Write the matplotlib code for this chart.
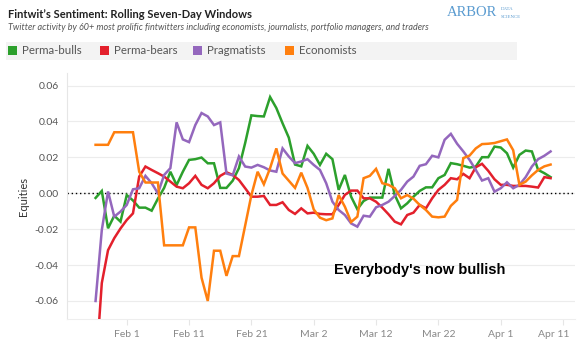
import numpy as np
import pandas as pd
import matplotlib
matplotlib.use("Agg")
import matplotlib.pyplot as plt
import matplotlib.dates as mdates
from matplotlib.patches import Rectangle
from matplotlib.transforms import ScaledTranslation

# daily values, Jan 27 .. Apr 9 2020
dates = pd.date_range("2020-01-27", "2020-04-09", freq="D")

perma_bulls = [-0.0026, 0.0013, -0.0195, -0.0125, -0.0158, -0.001, -0.004, -0.008, -0.008, -0.0097,
               -0.003, 0.003, 0.012, 0.0046, 0.012, 0.0186, 0.019, 0.0199, 0.0167, 0.0167,
               0.003, 0.003, 0.007, 0.014, 0.028, 0.0434, 0.043, 0.0428, 0.0536, 0.0475,
               0.039, 0.031, 0.016, 0.015, 0.0264, 0.022, 0.0158, 0.022, 0.019, 0.0019,
               0.0102, -0.0019, -0.0089, -0.0043, -0.0024, -0.0024, -0.0024, 0.0136, -0.0009, -0.0084,
               -0.0056, -0.0019, 0.0013, 0.0033, 0.0033, 0.0084, 0.0102, 0.0168, 0.0162, 0.0153,
               0.0143, 0.0149, 0.0201, 0.0201, 0.026, 0.0255, 0.0223, 0.0143, 0.0214, 0.0238,
               0.0233, 0.013, 0.0112, 0.009]
perma_bears = [-0.10, -0.050, -0.0317, -0.025, -0.0196, -0.0149, -0.0112, 0.0093, 0.0149, 0.013,
               0.0112, 0.0093, 0.0065, 0.0037, 0.0028, 0.0056, 0.0097, 0.0047, 0.0028, 0.0056,
               0.0097, 0.0117, 0.0102, 0.0074, 0.0028, -0.0019, -0.0019, -0.0015, -0.0065, -0.0065,
               -0.005, -0.0093, -0.0115, -0.0084, -0.0112, -0.0108, -0.0115, -0.0117, -0.0117, -0.0065,
               -0.0009, 0.0015, 0.0015, -0.0028, -0.0028, -0.0047, -0.008, -0.0117, -0.0158, -0.0173,
               -0.0121, -0.0108, -0.0065, -0.0084, -0.0028, 0.0019, 0.0047, 0.0084, 0.0078, 0.0108,
               0.0084, 0.0145, 0.0164, 0.0125, 0.0078, 0.0047, 0.0047, 0.0041, 0.0041, 0.0041,
               0.0037, 0.0032, 0.009, 0.0084]
pragmatists = [-0.060, -0.0205, 0.001, -0.013, -0.0102, -0.0065, 0.0022, 0.0028, 0.0097, 0.0056,
               0.0, 0.0102, 0.014, 0.0395, 0.030, 0.0285, 0.038, 0.0447, 0.0428, 0.038,
               0.0395, 0.011, 0.010, 0.0205, 0.0149, 0.0143, 0.0158, 0.0145, 0.0127, 0.012,
               0.025, 0.0205, 0.0168, 0.0177, 0.019, 0.0158, 0.013, 0.0056, -0.0047, -0.0093,
               -0.0121, -0.0168, -0.0186, -0.0125, -0.013, -0.0078, -0.0065, -0.0047, -0.0015, 0.0019,
               0.0065, 0.0093, 0.0153, 0.0162, 0.0209, 0.02, 0.0298, 0.0331, 0.0276, 0.0233,
               0.0186, 0.013, 0.0071, 0.0084, 0.0009, 0.0028, 0.0061, 0.0028, 0.0047, 0.009,
               0.0149, 0.019, 0.0209, 0.0233]
economists = [0.027, 0.027, 0.027, 0.034, 0.034, 0.034, 0.034, 0.012, 0.006, 0.006,
              0.006, -0.029, -0.029, -0.029, -0.029, -0.019, -0.019, -0.047, -0.060, -0.032,
              -0.032, -0.046, -0.035, -0.035, -0.018, -0.001, 0.012, 0.005, 0.014, 0.025,
              0.011, 0.007, 0.003, 0.0115, 0.003, -0.009, -0.0136, -0.015, -0.014, -0.001,
              -0.0075, -0.016, -0.013, 0.0084, 0.0097, 0.0136, 0.0056, 0.0047, 0.0028, -0.0028,
              -0.001, -0.003, -0.0065, -0.0093, -0.013, -0.0134, -0.013, -0.007, -0.0037, 0.0196,
              0.021, 0.025, 0.0274, 0.0276, 0.028, 0.029, 0.030, 0.024, 0.0047, 0.0065,
              0.010, 0.013, 0.015, 0.016]

series_names = ["Perma-bulls", "Perma-bears", "Pragmatists", "Economists"]
series_vals = [perma_bulls, perma_bears, pragmatists, economists]
colors = ["#2ca02c", "#e3202c", "#9467bd", "#ff7f0e"]

tick_dates = pd.to_datetime(["2020-02-01", "2020-02-11", "2020-02-21", "2020-03-02", "2020-03-12",
                             "2020-03-22", "2020-04-01", "2020-04-11"])
tick_labels = ["Feb 1", "Feb 11", "Feb 21", "Mar 2", "Mar 12", "Mar 22", "Apr 1", "Apr 11"]
y_ticks = [-0.06, -0.04, -0.02, 0.0, 0.02, 0.04, 0.06]

plt.rcParams['font.family'] = ['Lato', 'DejaVu Sans']

W, H = 582, 352
fig = plt.figure(figsize=(W / 100, H / 100), dpi=100)
ax = fig.add_axes([67 / W, 1 - 319.3 / H, (575 - 67) / W, (319.3 - 73) / H])

for name, vals, c in zip(series_names, series_vals, colors):
    ax.plot(dates, vals, color=c, lw=1.8, label=name, solid_joinstyle='miter', zorder=3)

ax.axhline(0, color='black', lw=1.0, ls=(0, (1, 2)), zorder=2)

ax.set_ylim(-0.0702, 0.067)
ax.set_xlim(pd.Timestamp("2020-01-22 10:00"), pd.Timestamp("2020-04-12 22:00"))
ax.set_yticks(y_ticks)
ax.set_yticklabels([f"{v:.2f}" for v in y_ticks])
ax.set_xticks(tick_dates)
ax.set_xticklabels(tick_labels)
ax.grid(axis='y', color='#ececec', lw=0.8, zorder=0)
for s in ['top', 'right']:
    ax.spines[s].set_visible(False)
ax.spines['left'].set_color('#e6e6e6')
ax.spines['bottom'].set_color('#eeeeee')
ax.tick_params(axis='y', length=0, labelsize=7.5, labelcolor='#555555', pad=6)
ax.tick_params(axis='x', length=4, color='#e6e6e6', labelsize=7.5, labelcolor='#888888', pad=4)
lbl = ax.get_xticklabels()[-1]
lbl.set_transform(lbl.get_transform() + ScaledTranslation(-9 / 100, 0, fig.dpi_scale_trans))
ax.set_ylabel("Equities", fontsize=8, color='#333333', labelpad=4)

ax.text(pd.Timestamp("2020-03-05 05:00"), -0.043, "Everybody's now bullish",
        family=['Liberation Sans', 'DejaVu Sans'], fontweight='bold', fontsize=10.5,
        color='black', ha='left', va='center')

# header
fig.text(8 / W, 1 - 14 / H, "Fintwit\u2019s Sentiment: Rolling Seven-Day Windows",
         fontsize=8, fontweight='bold', color='#222222', ha='left', va='center')
fig.text(8 / W, 1 - 27 / H,
         "Twitter activity by 60+ most prolific fintwitters including economists, journalists, "
         "portfolio managers, and traders",
         fontsize=6.5, style='italic', color='#555555', ha='left', va='center')
fig.text(447 / W, 1 - 13 / H, "ARBOR", family=['Liberation Serif', 'DejaVu Serif'],
         fontsize=10.5, color='#5a9bd0', ha='left', va='center')
fig.text(501 / W, 1 - 9.5 / H, "DATA", family=['Liberation Serif', 'DejaVu Serif'],
         fontsize=3.5, color='#5a9bd0', ha='left', va='center')
fig.text(501 / W, 1 - 16.5 / H, "SCIENCE", family=['Liberation Serif', 'DejaVu Serif'],
         fontsize=3.5, color='#5a9bd0', ha='left', va='center')

# legend band
fig.patches.append(Rectangle((6 / W, 1 - 59.5 / H), (517 - 6) / W, 18 / H,
                             transform=fig.transFigure, facecolor='#f3f3f3', edgecolor='none'))
legend_x = [8, 100, 193, 285]
for x, name, c in zip(legend_x, series_names, colors):
    fig.patches.append(Rectangle((x / W, 1 - 55 / H), 9 / W, 9 / H,
                                 transform=fig.transFigure, facecolor=c, edgecolor='none'))
    fig.text((x + 14) / W, 1 - 50.5 / H, name, fontsize=8.3, color='#555555',
             ha='left', va='center')

fig.savefig("out.png", dpi=100)
